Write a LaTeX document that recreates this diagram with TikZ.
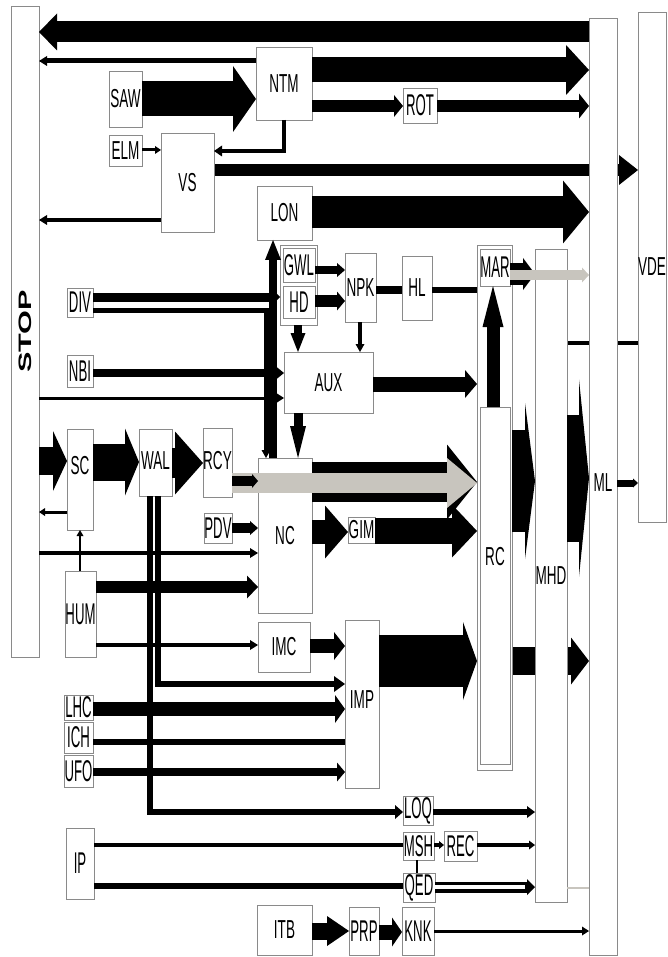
\documentclass[tikz,border=0pt]{standalone}
\usepackage{fontspec}
\setmainfont{Liberation Sans}
\usetikzlibrary{arrows.meta}
\pgfdeclarelayer{bg}
\pgfsetlayers{bg,main}
\definecolor{grayA}{HTML}{C8C5BE}
\definecolor{boxline}{HTML}{8A8A8A}
\newcommand\lbA[1]{{\fontsize{26}{26}\selectfont\scalebox{0.52}[1]{#1}}}
\newcommand\lbB[1]{{\fontsize{30}{30}\selectfont\scalebox{0.44}[1]{#1}}}
\newcommand\stoptext{{\fontsize{18}{18}\selectfont\bfseries\scalebox{1.7}[1]{STOP}}}
\newcommand\bx[7]{\node[box,minimum width={(#4-#2)*1pt},minimum height={(#5-#3)*1pt},label={[lbl,yshift=#7pt]center:#6}] (#1) at ({(#2+#4)/2},{(#3+#5)/2}) {};}
\begin{document}
\begin{tikzpicture}[x=1pt,y=-1pt,
  box/.style={draw=boxline,line width=0.9pt,fill=white,inner sep=0pt,outer sep=0pt},
  lbl/.style={inner sep=0pt,text=black},
  ar/.style n args={3}{line width=#1pt,-{Triangle[length=#2pt,width=#3pt,line width=0pt]}},
  ln/.style={line width=#1pt},
  grayarrow/.style={draw=grayA,color=grayA}]
\useasboundingbox (0,0) rectangle (667,957);
% boxes
\node[box,minimum width=28pt,minimum height=651pt,label={[lbl,rotate=90]center:\stoptext}] (STOP) at (25,331.5) {};
\bx{ML}{589}{18}{617}{955}{\lbA{ML}}{3.5}
\bx{VDE}{638}{12}{666}{522}{\lbA{VDE}}{0}
\bx{MHD}{535}{249}{567}{902}{\lbA{MHD}}{0}
\bx{RCC}{477}{245}{512}{770}{}{0}
\bx{MAR}{480}{249}{510}{286}{\lbB{MAR}}{0}
\bx{RC}{480}{407}{510}{764}{\lbA{RC}}{28.5}
\bx{NTM}{256}{47}{312}{120}{\lbA{NTM}}{0}
\bx{SAW}{109}{71}{142}{127}{\lbA{SAW}}{0}
\bx{ELM}{109}{135}{142}{166}{\lbA{ELM}}{0}
\bx{VS}{161}{133}{214}{232}{\lbA{VS}}{0}
\bx{ROT}{403}{88}{437}{123}{\lbB{ROT}}{0}
\bx{LON}{257}{186}{312}{240}{\lbA{LON}}{0}
\bx{GH}{280}{245}{317}{325}{}{0}
\bx{GWL}{283}{248}{315}{282}{\lbB{GWL}}{0}
\bx{HD}{283}{286}{315}{318}{\lbB{HD}}{0}
\bx{NPK}{345}{253}{376}{322}{\lbA{NPK}}{0}
\bx{HL}{402}{256}{432}{320}{\lbA{HL}}{0}
\bx{AUX}{284}{352}{373}{413}{\lbA{AUX}}{0}
\bx{DIV}{67}{288}{93}{317}{\lbB{DIV}}{0}
\bx{NBI}{67}{355}{93}{387}{\lbB{NBI}}{0}
\bx{SC}{67}{429}{93}{530}{\lbA{SC}}{14}
\bx{WAL}{139}{429}{172}{496}{\lbA{WAL}}{2}
\bx{RCY}{203}{428}{232}{497}{\lbA{RCY}}{2}
\bx{PDV}{204}{513}{232}{543}{\lbB{PDV}}{0}
\bx{NC}{258}{458}{312}{613}{\lbA{NC}}{0}
\bx{GIM}{348}{517}{375}{543}{\lbA{GIM}}{0}
\bx{HUM}{65}{571}{96}{657}{\lbB{HUM}}{0}
\bx{IMC}{258}{622}{310}{672}{\lbA{IMC}}{0}
\bx{IMP}{345}{620}{379}{788}{\lbA{IMP}}{4}
\bx{LHC}{64}{695}{93}{720}{\lbB{LHC}}{0}
\bx{ICH}{64}{722}{93}{753}{\lbB{ICH}}{0}
\bx{UFO}{64}{755}{93}{787}{\lbB{UFO}}{0}
\bx{LOQ}{403}{796}{433}{825}{\lbB{LOQ}}{0}
\bx{MSH}{403}{832}{434}{860}{\lbB{MSH}}{0}
\bx{REC}{444}{831}{477}{861}{\lbB{REC}}{0}
\bx{QED}{403}{873}{435}{902}{\lbB{QED}}{0}
\bx{IP}{66}{828}{94}{899}{\lbB{IP}}{0}
\bx{ITB}{257}{905}{312}{955}{\lbA{ITB}}{0}
\bx{PRP}{349}{907}{379}{955}{\lbB{PRP}}{0}
\bx{KNK}{402}{907}{434}{955}{\lbB{KNK}}{0}
% connectors passing behind boxes
\begin{pgfonlayer}{bg}
\draw[ar={12}{19}{30}] (VS.east |- 0,170) -- (VDE.west |- 0,170);
\draw[ln=4] (MHD.east |- 0,343) -- (VDE.west |- 0,343);
\draw[ar={28}{18}{47}] (RCC.east |- 0,661) -- (ML.west |- 0,661);
\end{pgfonlayer}
% connectors
\draw[ar={21}{18}{37}] (ML.west |- 0,32) -- (STOP.east |- 0,32);
\draw[ar={5}{8}{10}] (NTM.west |- 0,61) -- (STOP.east |- 0,61);
\draw[ar={25}{23}{50}] (NTM.east |- 0,70) -- (ML.west |- 0,70);
\draw[ar={12}{9}{22}] (NTM.east |- 0,106) -- (ROT.west |- 0,106);
\draw[ar={12}{10}{25}] (ROT.east |- 0,106) -- (ML.west |- 0,106);
\draw[ar={35}{23}{66}] (SAW.east |- 0,99) -- (NTM.west |- 0,99);
\draw[ar={3}{6}{8}] (ELM.east |- 0,150) -- (VS.west |- 0,150);
\draw[ar={4}{8}{11}] (NTM.south) |- (VS.east |- 0,151);
\draw[ar={32}{26}{63}] (LON.east |- 0,212) -- (ML.west |- 0,212);
\draw[ar={4}{8}{10}] (VS.west |- 0,220) -- (STOP.east |- 0,220);
\draw[ar={8}{20}{16}] (NC.north -| 273,0) -- (LON.south -| 273,0);
\draw[ar={9}{6}{12}] (DIV.east |- 0,297) -- (GH.west |- 0,297);
\draw[ar={5}{8}{9}] (DIV.east |- 0,310) -| (NC.north -| 266,0);
\draw[ar={8}{8}{14}] (GWL.east |- 0,270) -- (NPK.west |- 0,270);
\draw[ar={12}{8}{19}] (HD.east |- 0,301) -- (NPK.west |- 0,301);
\draw[ln=8] (NPK.east |- 0,290) -- (HL.west |- 0,290);
\draw[ln=6] (HL.east |- 0,290) -- (RCC.west |- 0,290);
\draw[ar={4}{8}{9}] (NPK.south -| 360,0) -- (AUX.north -| 360,0);
\draw[ar={8}{19}{15}] (GH.south -| 298,0) -- (AUX.north -| 298,0);
\draw[ar={15}{12}{28}] (AUX.east |- 0,384) -- (RCC.west |- 0,384);
\draw[ar={8}{8}{13}] (NBI.east |- 0,373) -- (AUX.west |- 0,373);
\draw[ar={3}{7}{9}] (STOP.east |- 0,398) -- (AUX.west |- 0,398);
\draw[ar={9}{32}{16}] (AUX.south -| 298,0) -- (NC.north -| 298,0);
\draw[ar={13}{41}{21}] (RC.north -| 493,0) -- (MAR.south -| 493,0);
\draw[ar={22}{12}{32}] (MAR.east |- 0,274) -- (MHD.west |- 0,274);
\draw[grayarrow,ar={10}{7}{15}] (MAR.east |- 0,275) -- (ML.west |- 0,275);
\draw[ar={102}{10}{156}] (RCC.east |- 0,481) -- (MHD.west |- 0,481);
\draw[ar={127}{10}{197}] (MHD.east |- 0,478) -- (ML.west |- 0,478);
\draw[ar={7}{5}{9}] (ML.east |- 0,483) -- (VDE.west |- 0,483);
\draw[ar={28}{14}{60}] (STOP.east |- 0,461) -- (SC.west |- 0,461);
\draw[ar={37}{14}{67}] (SC.east |- 0,462) -- (WAL.west |- 0,462);
\draw[ar={30}{28}{63}] (WAL.east |- 0,463) -- (RCY.west |- 0,463);
\draw[ar={3}{6}{8}] (SC.west |- 0,512) -- (STOP.east |- 0,512);
\draw[ar={2}{6}{7}] (HUM.north -| 80,0) -- (SC.south -| 80,0);
\draw[ar={4}{8}{10}] (STOP.east |- 0,553) -- (NC.west |- 0,553);
\draw[ar={12}{11}{23}] (HUM.east |- 0,587) -- (NC.west |- 0,587);
\draw[ar={4}{8}{10}] (HUM.east |- 0,645) -- (IMC.west |- 0,645);
\draw[ar={6}{8}{14}] (WAL.south -| 150,0) |- (LOQ.west |- 0,812);
\draw[ar={6}{11}{16}] (WAL.south -| 158,0) |- (IMP.west |- 0,684);
\draw[ar={10}{8}{14}] (PDV.east |- 0,528) -- (NC.west |- 0,528);
\draw[ar={40}{30}{75}] (NC.east |- 0,482) -- (RCC.west |- 0,482);
\draw[grayarrow,ar={20}{30}{50}] (RCY.east |- 0,483) -- (RCC.west |- 0,483);
\draw[ar={10}{6}{14}] (RCY.east |- 0,481) -- (NC.west |- 0,481);
\draw[ar={24}{23}{53}] (NC.east |- 0,532) -- (GIM.west |- 0,532);
\draw[ar={26}{25}{53}] (GIM.east |- 0,531) -- (RCC.west |- 0,531);
\draw[ar={14}{11}{28}] (IMC.east |- 0,646) -- (IMP.west |- 0,646);
\draw[ar={52}{14}{78}] (IMP.east |- 0,661) -- (RCC.west |- 0,661);
\draw[ar={14}{10}{28}] (LHC.east |- 0,709) -- (IMP.west |- 0,709);
\draw[ln=6] (ICH.east |- 0,742) -- (IMP.west |- 0,742);
\draw[ar={8}{8}{19}] (UFO.east |- 0,772) -- (IMP.west |- 0,772);
\draw[ar={6}{8}{12}] (LOQ.east |- 0,812) -- (MHD.west |- 0,812);
\draw[ln=4] (IP.east |- 0,845) -- (MSH.west |- 0,845);
\draw[ar={4}{5}{8}] (MSH.east |- 0,845) -- (REC.west |- 0,845);
\draw[ar={4}{6}{9}] (REC.east |- 0,845) -- (MHD.west |- 0,845);
\draw[ln=2] (MSH.south -| 417,0) -- (QED.north -| 417,0);
\draw[ln=6] (IP.east |- 0,886) -- (QED.west |- 0,886);
\draw[ar={11}{8}{16}] (QED.east |- 0,887) -- (MHD.west |- 0,887);
\draw[white,ln=4,shorten >=10pt] (QED.east |- 0,887) -- (MHD.west |- 0,887);
\draw[grayarrow,ln=2] (MHD.east |- 0,888) -- (ML.west |- 0,888);
\draw[ar={17}{22}{30}] (ITB.east |- 0,931) -- (PRP.west |- 0,931);
\draw[ar={15}{10}{29}] (PRP.east |- 0,932) -- (KNK.west |- 0,932);
\draw[ar={3}{7}{9}] (KNK.east |- 0,931) -- (ML.west |- 0,931);
\end{tikzpicture}
\end{document}
